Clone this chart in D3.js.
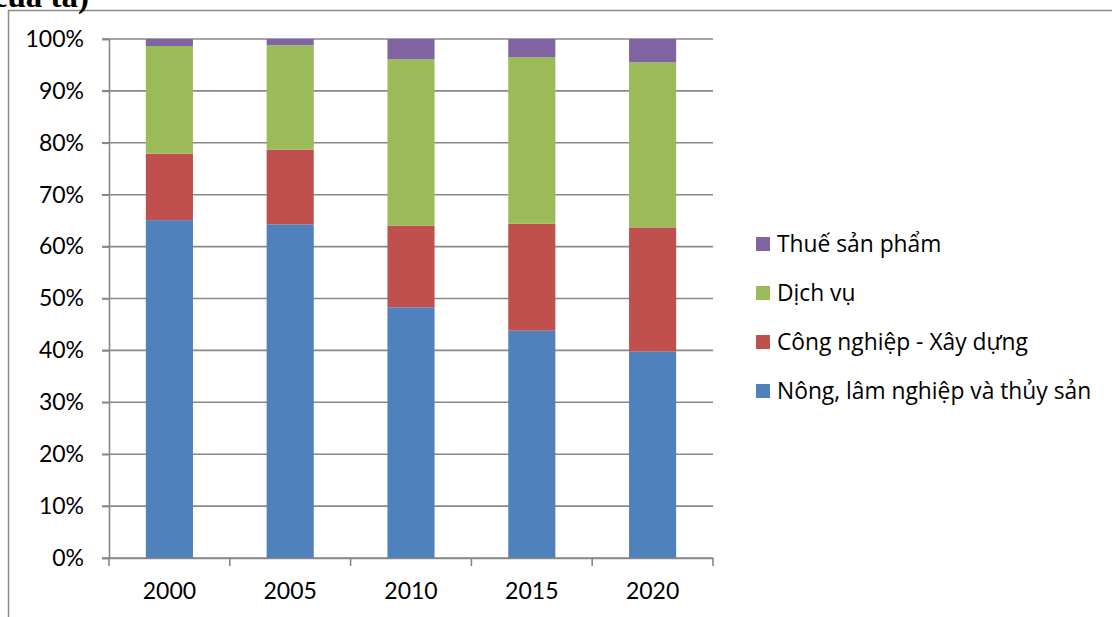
<!DOCTYPE html>
<html><head><meta charset="utf-8">
<script src="https://cdn.jsdelivr.net/npm/d3@7"></script>
<style>body{margin:0;background:#fff}svg{display:block}text{font-family:Lato,"Open Sans",sans-serif}</style>
</head><body><svg id="c" width="1112" height="617"></svg>
<script>
const years = ["2000","2005","2010","2015","2020"];
const seriesNames = ["Nông, lâm nghiệp và thủy sản","Công nghiệp - Xây dựng","Dịch vụ","Thuế sản phẩm"];
const agri = [65.1, 64.3, 48.3, 43.8, 39.8];
const industry = [12.8, 14.4, 15.7, 20.6, 23.9];
const services = [20.75, 20.1, 32.1, 32.1, 31.8];
const tax = [1.35, 1.2, 3.9, 3.5, 4.5];
const colors = ["#4F81BD","#C0504D","#9BBB59","#8064A2"];
const yTicks = [0,10,20,30,40,50,60,70,80,90,100];

const svg = d3.select("#c");
const L=109, R=713, T=39, B=558;
const x = d3.scaleBand().domain(years).range([L,R]).paddingInner(0.61).paddingOuter(0.305);
const y = d3.scaleLinear().domain([0,100]).range([B,T]);

// outer border
svg.append("path").attr("d","M8.5,617 V10.5 H1112").attr("fill","none").attr("stroke","#8a8a8a").attr("stroke-width",1.5);
// cut-off title text
svg.append("text").attr("x",89).attr("y",7).attr("text-anchor","end")
  .style("font-family","'Liberation Serif','Times New Roman',serif").style("font-weight","bold").style("font-size","33px")
  .text("của ta)");

// gridlines
svg.append("g").selectAll("line").data(yTicks).join("line")
  .attr("x1",L-7).attr("x2",R).attr("y1",d=>y(d)).attr("y2",d=>y(d))
  .attr("stroke","#888").attr("stroke-width",1.6);

const data = years.map((yr,i)=>({year:yr, a:agri[i], b:industry[i], c:services[i], d:tax[i]}));
const stack = d3.stack().keys(["a","b","c","d"])(data);
svg.append("g").selectAll("g").data(stack).join("g").attr("fill",(d,i)=>colors[i])
  .selectAll("rect").data(d=>d).join("rect")
  .attr("x",d=>x(d.data.year)).attr("width",x.bandwidth())
  .attr("y",d=>y(d[1])).attr("height",d=>y(d[0])-y(d[1]));

// y axis
const ya = svg.append("g").attr("transform",`translate(${L},0)`)
  .call(d3.axisLeft(y).tickValues(yTicks).tickFormat(d=>d+"%").tickSize(7).tickPadding(18));
ya.select(".domain").attr("stroke","#888").attr("stroke-width",1.6);
ya.selectAll(".tick line").attr("stroke","#888").attr("stroke-width",1.6);
ya.selectAll("text").style("font-size","23px").attr("fill","#000");

// x axis
const xa = svg.append("g").attr("transform",`translate(0,${B})`)
  .call(d3.axisBottom(x).tickSize(0).tickPadding(25));
xa.select(".domain").attr("stroke","#888").attr("stroke-width",1.6);
xa.selectAll("text").style("font-size","23px").attr("fill","#000");
const bounds = years.map(yr=>x(yr)-x.step()*x.paddingInner()/2).concat([R]);
svg.append("g").selectAll("line").data(bounds).join("line")
  .attr("x1",d=>d).attr("x2",d=>d).attr("y1",B).attr("y2",B+8)
  .attr("stroke","#888").attr("stroke-width",1.6);

// legend
const leg = [3,2,1,0];
const lg = svg.append("g").selectAll("g").data(leg).join("g")
  .attr("transform",(d,i)=>`translate(756,${244+i*49})`);
lg.append("rect").attr("x",0).attr("y",-7).attr("width",14).attr("height",14).attr("fill",d=>colors[d]);
lg.append("text").attr("x",21).attr("y",0).attr("dy","0.35em")
  .style("font-family","'Open Sans',sans-serif").style("font-size","22.8px").text(d=>seriesNames[d]);
</script></body></html>
